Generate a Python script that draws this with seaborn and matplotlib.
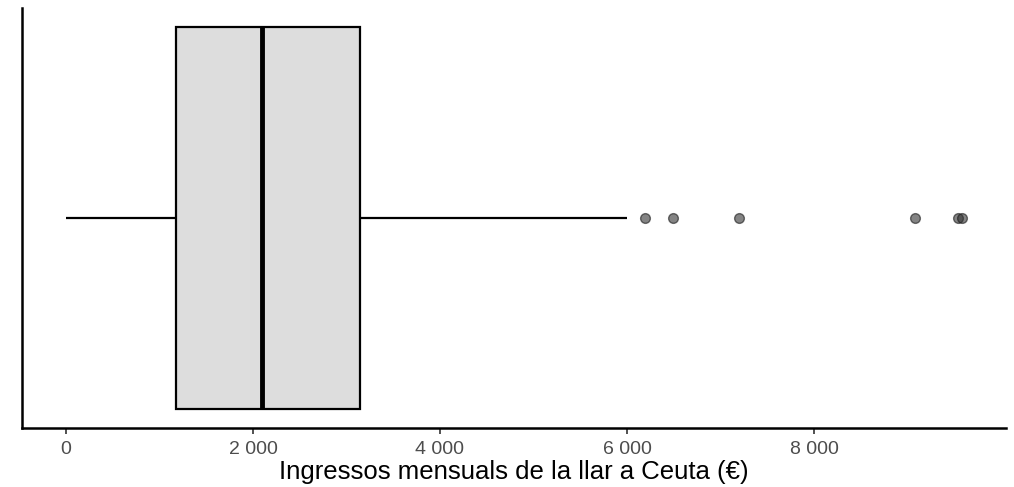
import numpy as np
import pandas as pd
import matplotlib
matplotlib.use("Agg")
import matplotlib.pyplot as plt
import seaborn as sns
from matplotlib.ticker import FuncFormatter

# Household monthly income values (€), chosen to reproduce the box statistics
income = [0, 300, 550, 750, 900, 1000, 1080, 1130, 1176,
          1300, 1450, 1600, 1750, 1850, 1950, 2030, 2096,
          2250, 2400, 2550, 2700, 2850, 2950, 3050, 3144,
          3500, 6000, 6193, 6492, 7198, 9080, 9540, 9583]
tick_values = [0, 2000, 4000, 6000, 8000]
xlabel = "Ingressos mensuals de la llar a Ceuta (€)"

df = pd.DataFrame({"ingressos": income})

sns.set_theme(style="white")
plt.rcParams['font.family'] = ['Liberation Sans', 'DejaVu Sans']

fig = plt.figure(figsize=(10.14, 4.87), dpi=100)
ax = fig.add_axes([22/1014, 1-428/487, (1006-22)/1014, (428-8)/487])

sns.boxplot(data=df, x="ingressos", ax=ax, width=0.91, whis=1.5,
            color="#DDDDDD", saturation=1,
            boxprops=dict(facecolor="#DDDDDD", edgecolor="black", linewidth=1.6),
            whiskerprops=dict(color="black", linewidth=1.6),
            capprops=dict(linewidth=0),
            medianprops=dict(color="black", linewidth=3.5),
            flierprops=dict(marker="o", markersize=7, markerfacecolor="#333333",
                            markeredgecolor="#1a1a1a", alpha=0.6, markeredgewidth=1))

ax.set_xlim(-470, 10053)
ax.set_ylim(0.5, -0.5)
ax.set_xticks(tick_values)
ax.xaxis.set_major_formatter(FuncFormatter(lambda v, p: f"{int(v):,}".replace(",", " ")))
ax.set_yticks([])
ax.set_ylabel("")
ax.set_xlabel(xlabel, fontsize=18.5, color="black", labelpad=2)
ax.tick_params(axis="x", bottom=True, length=4, width=1.2, color="#333333",
               labelsize=14, labelcolor="#4D4D4D", pad=5)
for s in ["top", "right"]:
    ax.spines[s].set_visible(False)
for s in ["left", "bottom"]:
    ax.spines[s].set_color("black")
    ax.spines[s].set_linewidth(1.8)

fig.savefig("out.png", dpi=100)
